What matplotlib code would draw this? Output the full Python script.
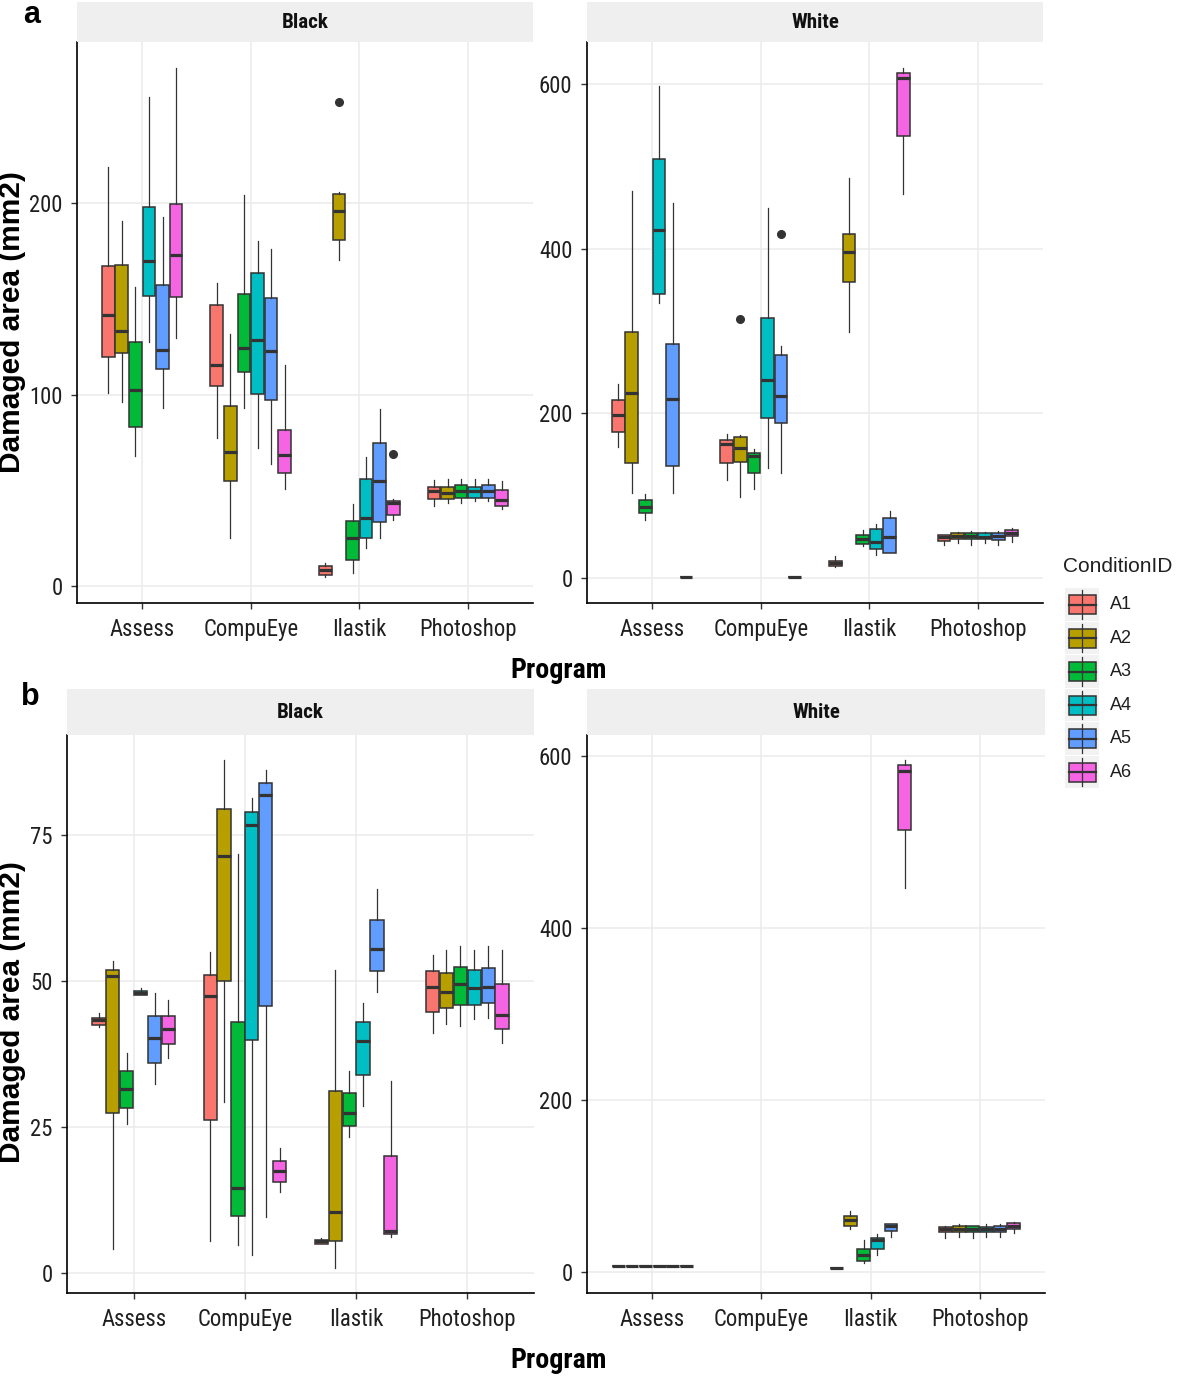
import matplotlib
matplotlib.use('Agg')
import matplotlib.pyplot as plt
from matplotlib import font_manager
from matplotlib.font_manager import FontProperties
from matplotlib.textpath import TextPath
from matplotlib.patches import Rectangle

programs = ['Assess', 'CompuEye', 'Ilastik', 'Photoshop']
conditions = ['A1', 'A2', 'A3', 'A4', 'A5', 'A6']
colors = ['#F8766D', '#B79F00', '#00BA38', '#00BFC4', '#619CFF', '#F564E3']

# one row per condition A1..A6: (whisker low, Q1, median, Q3, whisker high)
a_black = [
    [(100.9, 119.9, 141.7, 167.0, 219.2), (96.1, 121.5, 133.3, 167.8, 190.8), (67.7, 83.3, 102.5, 127.3, 156.0),
     (127.7, 151.6, 170.0, 198.0, 255.7), (92.9, 113.5, 123.5, 157.2, 193.0), (129.5, 150.8, 173.2, 199.4, 271.0)],
    [(77.5, 104.5, 115.3, 146.7, 158.4), (24.8, 55.1, 70.1, 93.9, 131.5), (92.9, 111.7, 124.5, 152.6, 204.6),
     (71.9, 100.3, 128.5, 163.8, 180.4), (63.5, 97.3, 122.9, 150.6, 176.2), (50.9, 59.1, 68.5, 81.7, 115.3)],
    [(4.4, 5.6, 8.4, 10.4, 12.2), (170.6, 180.8, 195.8, 205.0, 206.0), (6.8, 13.6, 24.8, 34.0, 43.0),
     (19.8, 25.0, 35.4, 55.9, 67.5), (24.8, 33.2, 54.9, 74.7, 92.7), (34.4, 37.2, 43.4, 44.6, 45.4)],
    [(41.8, 45.4, 49.4, 51.5, 55.5), (43.4, 45.4, 48.8, 51.5, 56.0), (43.2, 46.2, 49.8, 52.5, 56.0),
     (44.4, 46.2, 49.4, 51.5, 56.0), (44.4, 46.2, 49.8, 52.5, 56.0), (40.4, 42.0, 45.0, 50.0, 55.0)],
]
a_black_out = [(2, 1, 252.9), (2, 5, 68.9)]  # (program, condition, value)

a_white = [
    [(159.0, 177.1, 198.5, 216.6, 236.0), (103.2, 139.5, 225.0, 299.4, 469.5), (70.7, 79.0, 86.9, 94.4, 102.3),
     (334.3, 345.0, 423.0, 508.6, 597.9), (103.2, 135.7, 218.0, 284.5, 456.0), (0.8, 0.8, 0.8, 0.8, 0.8)],
    [(119.5, 139.5, 162.7, 167.4, 175.3), (99.0, 141.3, 157.6, 171.1, 173.4), (108.8, 127.8, 148.8, 152.0, 156.7),
     (133.4, 193.9, 240.4, 316.0, 449.0), (127.4, 187.8, 221.3, 271.0, 282.2), (0.8, 0.8, 0.8, 0.8, 0.8)],
    [(14.0, 15.0, 18.0, 21.0, 26.5), (298.5, 359.8, 396.6, 417.5, 485.8), (39.1, 41.4, 47.4, 52.1, 58.1),
     (27.9, 35.8, 43.7, 60.0, 66.0), (30.2, 30.2, 49.7, 73.0, 81.4), (466.3, 536.5, 606.7, 613.7, 620.0)],
    [(40.4, 45.1, 49.7, 52.0, 53.0), (42.3, 47.4, 51.6, 54.4, 55.8), (40.4, 47.4, 51.1, 54.4, 56.7),
     (42.8, 47.4, 49.7, 54.4, 55.8), (40.4, 46.5, 51.6, 54.4, 56.7), (44.2, 50.7, 54.4, 58.6, 60.9)],
]
a_white_out = [(1, 1, 314.3), (1, 4, 418.0)]

b_black = [
    [(42.2, 42.5, 43.4, 43.8, 44.6), (4.2, 27.5, 50.9, 51.9, 53.4), (25.5, 28.3, 31.5, 34.6, 37.8),
     (47.6, 47.6, 48.0, 48.3, 48.8), (32.4, 36.1, 40.3, 44.0, 48.0), (36.8, 39.3, 41.8, 44.0, 46.8)],
    [(5.5, 26.2, 47.4, 51.0, 55.0), (29.3, 50.1, 71.5, 79.5, 87.8), (4.9, 9.8, 14.7, 43.1, 71.7),
     (3.1, 39.9, 76.7, 78.9, 81.4), (9.7, 45.7, 81.9, 84.0, 86.2), (13.9, 15.6, 17.6, 19.2, 21.5)],
    [(5.0, 5.0, 5.5, 5.8, 6.0), (1.0, 5.6, 10.5, 31.2, 52.0), (23.4, 25.3, 27.5, 30.9, 34.7),
     (28.6, 34.0, 39.7, 43.1, 46.3), (48.2, 51.7, 55.6, 60.5, 65.8), (6.3, 6.7, 7.3, 20.1, 32.9)],
    [(41.2, 44.8, 49.0, 51.7, 54.5), (42.7, 45.5, 48.2, 51.4, 55.3), (42.3, 46.0, 49.6, 52.5, 56.1),
     (43.5, 46.0, 48.8, 52.0, 55.3), (43.7, 46.3, 49.0, 52.2, 56.1), (39.5, 41.8, 44.2, 49.6, 55.3)],
]
b_black_out = []

b_white = [
    [(6.0, 6.0, 6.0, 6.0, 6.0)] * 6,
    [None] * 6,
    [(4.5, 4.5, 4.5, 4.5, 4.5), (49.0, 53.5, 60.2, 64.6, 70.0), (9.8, 12.0, 19.2, 25.9, 36.6),
     (18.7, 26.7, 36.6, 39.2, 43.2), (40.1, 46.8, 53.5, 55.7, 55.7), (446.7, 513.6, 583.2, 589.4, 595.0)],
    [(38.8, 45.5, 49.0, 51.3, 52.6), (40.1, 45.5, 49.9, 53.5, 55.7), (38.8, 45.5, 49.9, 52.6, 53.5),
     (40.1, 45.5, 49.0, 51.3, 55.7), (40.1, 45.5, 49.9, 53.5, 55.7), (44.6, 49.0, 53.5, 57.0, 58.0)],
]
b_white_out = []

a_black_ticks = [0, 100, 200]
a_white_ticks = [0, 200, 400, 600]
b_black_ticks = [0, 25, 50, 75]
b_white_ticks = [0, 200, 400, 600]

plt.rcParams['font.family'] = ['Liberation Sans', 'DejaVu Sans']

SANS = ['Liberation Sans', 'DejaVu Sans', 'Noto Sans', 'Roboto', 'Open Sans', 'Lato', 'Inter', 'Arimo']


def weight_num(w):
    if isinstance(w, (int, float)):
        return int(w)
    return font_manager.weight_dict.get(str(w), 400)


def fit_font(sample, target_w, target_cap, weight):
    # pick the installed sans face whose width/height best matches the reference's narrow type
    best = None
    seen = set()
    for f in font_manager.fontManager.ttflist:
        if f.fname in seen or f.style != 'normal' or abs(weight_num(f.weight) - weight) > 50:
            continue
        ok = False
        for fam in SANS:
            rest = f.name[len(fam):] if f.name.startswith(fam) else None
            if rest is not None and (rest == '' or 'ond' in rest or 'arrow' in rest):
                ok = True
        if not ok or 'Mono' in f.name:
            continue
        seen.add(f.fname)
        try:
            fp = FontProperties(fname=f.fname)
            w100 = TextPath((0, 0), sample, size=100, prop=fp).get_extents().width
            c100 = TextPath((0, 0), 'H', size=100, prop=fp).get_extents().height
        except Exception:
            continue
        if w100 <= 0 or c100 <= 0:
            continue
        score = abs(w100 / c100 - target_w / target_cap)
        if best is None or score < best[0]:
            best = (score, fp, w100)
    if best is None:
        fp = FontProperties(family='Liberation Sans', weight=weight)
        w100 = TextPath((0, 0), sample, size=100, prop=fp).get_extents().width
        best = (0, fp, w100)
    return best[1], best[2]


tick_fp, tick_w100 = fit_font('CompuEye', 93, 18, 400)
tick_px = min(25.0, 93 * 100 / tick_w100)
tick_size = tick_px * 0.72
bold_fp, bold_w100 = fit_font('Program', 95, 20, 700)
prog_px = min(28.0, 95 * 100 / bold_w100)
prog_size = prog_px * 0.72
strip_w100 = TextPath((0, 0), 'Black', size=100, prop=bold_fp).get_extents().width
strip_size = min(21.0, 46 * 100 / strip_w100) * 0.72

W, H = 1181, 1378
EDGE = '#333333'
GRID = '#EBEBEB'
TXT = '#1f1f1f'


def px_axes(fig, x0, y0, x1, y1):
    return fig.add_axes([x0 / W, 1 - y1 / H, (x1 - x0) / W, (y1 - y0) / H])


def draw_panel(ax, stats, outliers, yticks):
    allv = []
    for i in range(len(programs)):
        for j in range(len(conditions)):
            s = stats[i][j]
            if s is None:
                continue
            lo, q1, med, q3, hi = s
            fl = [v for (pi, cj, v) in outliers if pi == i and cj == j]
            allv += list(s) + fl
            x = i + 1 + (j - 2.5) * 0.125
            st = dict(med=med, q1=q1, q3=q3, whislo=lo, whishi=hi, fliers=fl)
            ax.bxp([st], positions=[x], widths=0.118, patch_artist=True, showcaps=False,
                   manage_ticks=False,
                   boxprops=dict(facecolor=colors[j], edgecolor=EDGE, linewidth=1.1),
                   medianprops=dict(color=EDGE, linewidth=2.3, solid_capstyle='butt'),
                   whiskerprops=dict(color=EDGE, linewidth=0.9),
                   flierprops=dict(marker='o', markersize=5.5, markerfacecolor=EDGE,
                                   markeredgecolor=EDGE))
    lo, hi = min(allv), max(allv)
    r = hi - lo
    ax.set_ylim(lo - 0.05 * r, hi + 0.05 * r)
    ax.set_xlim(0.4, 4.6)
    ax.set_xticks(range(1, len(programs) + 1))
    ax.set_xticklabels(programs, fontproperties=tick_fp, fontsize=tick_size, color=TXT)
    ax.set_yticks(yticks)
    ax.set_yticklabels([str(t) for t in yticks], fontproperties=tick_fp, fontsize=tick_size, color=TXT)
    ax.grid(True, color=GRID, linewidth=1.1)
    ax.set_axisbelow(True)
    for sp in ['top', 'right']:
        ax.spines[sp].set_visible(False)
    for sp in ['left', 'bottom']:
        ax.spines[sp].set_color('black')
        ax.spines[sp].set_linewidth(1.2)
    ax.tick_params(axis='x', length=4.5, width=1, color='#333333',
                   pad=max(1.0, (25 - 4.5 - 0.5 * tick_px) * 0.72))
    ax.tick_params(axis='y', length=4.5, width=1, color='#333333', pad=6.0)


def strip(fig, x0, y0, x1, y1, label):
    sa = px_axes(fig, x0, y0, x1, y1)
    sa.set_facecolor('#EFEFEF')
    sa.set_xticks([])
    sa.set_yticks([])
    for sp in sa.spines.values():
        sp.set_visible(False)
    sa.text(0.5, 0.5, label, ha='center', va='center', fontproperties=bold_fp,
            fontsize=strip_size, color='#111111')


fig = plt.figure(figsize=(W / 100, H / 100), dpi=100)

panels = [
    (77, 42, 533, 603, a_black, a_black_out, a_black_ticks, 'Black', 2),
    (587, 42, 1043, 603, a_white, a_white_out, a_white_ticks, 'White', 2),
    (67, 735, 534, 1293, b_black, b_black_out, b_black_ticks, 'Black', 689),
    (587, 735, 1045, 1293, b_white, b_white_out, b_white_ticks, 'White', 689),
]
for x0, y0, x1, y1, st, out, yt, lab, sy in panels:
    ax = px_axes(fig, x0, y0, x1, y1)
    draw_panel(ax, st, out, yt)
    strip(fig, x0, sy, x1, y0, lab)

# panel letters, axis titles
fig.text(32 / W, 1 - 15 / H, 'a', ha='center', va='center', fontsize=22, fontweight='bold')
fig.text(30 / W, 1 - 697 / H, 'b', ha='center', va='center', fontsize=22, fontweight='bold')
for yc in [322, 1012]:
    fig.text(12 / W, 1 - yc / H, 'Damaged area (mm2)', rotation=90, ha='center', va='center',
             fontsize=21.5, fontweight='bold')
for yc in [670, 1360]:
    fig.text(559 / W, 1 - yc / H, 'Program', ha='center', va='center', fontproperties=bold_fp,
             fontsize=prog_size)

# legend
lg = px_axes(fig, 1055, 545, 1181, 795)
lg.set_xlim(1055, 1181)
lg.set_ylim(795, 545)
lg.axis('off')
lg.text(1063, 567, 'ConditionID', ha='left', va='center', fontsize=15, color=TXT)
key_h = 33.5
for j, c in enumerate(conditions):
    top = 588 + j * key_h
    lg.add_patch(Rectangle((1065, top), 34, key_h - 1, facecolor='#F2F2F2', edgecolor='none'))
    cx = 1082
    lg.plot([cx, cx], [top + 2, top + key_h - 3], color=EDGE, lw=0.9)
    lg.add_patch(Rectangle((1068.5, top + 0.22 * key_h), 27, 0.56 * key_h, facecolor=colors[j],
                           edgecolor=EDGE, lw=1.1))
    lg.plot([1068.5, 1095.5], [top + 0.5 * key_h, top + 0.5 * key_h], color=EDGE, lw=1.6)
    lg.text(1110, top + key_h / 2, c, ha='left', va='center', fontsize=13, color=TXT)

fig.savefig('out.png', dpi=100)
